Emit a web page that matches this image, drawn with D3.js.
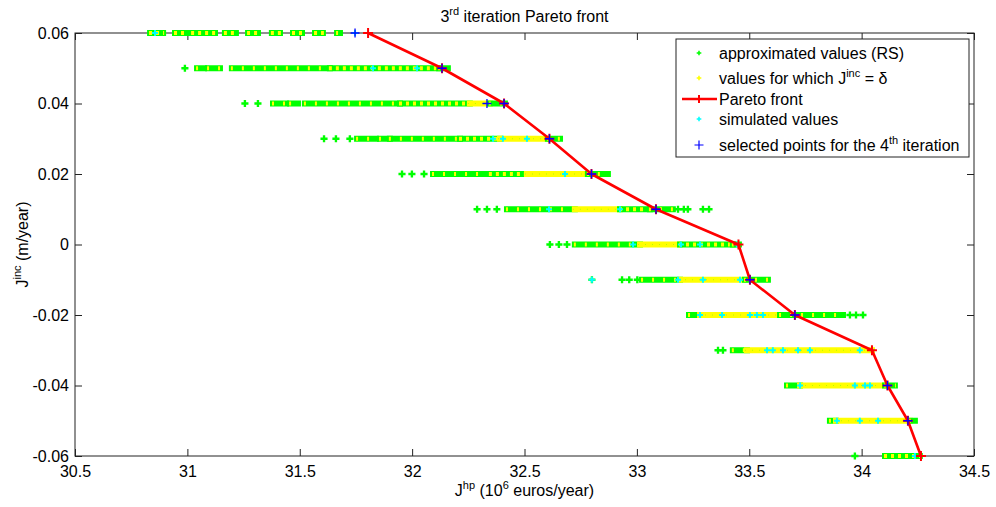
<!DOCTYPE html>
<html>
<head>
<meta charset="utf-8">
<script src="https://cdn.jsdelivr.net/npm/d3@7"></script>
<style>
  body { margin: 0; background: #fff; }
  svg { display: block; font-family: "Liberation Sans", Arial, sans-serif; }
</style>
</head>
<body>
<svg id="chart" width="996" height="507"></svg>
<script>
// ---- axis ticks ----
const xTicks = [30.5, 31, 31.5, 32, 32.5, 33, 33.5, 34, 34.5];
const yTicks = [-0.06, -0.04, -0.02, 0, 0.02, 0.04, 0.06];

// ---- Pareto front (Jhp in 10^6 euros/year, Jinc in m/year) ----
const paretoJhp  = [31.804, 32.133, 32.409, 32.611, 32.798, 33.085, 33.452, 33.503, 33.703, 34.046, 34.115, 34.206, 34.264];
const paretoJinc = [0.06, 0.05, 0.04, 0.03, 0.02, 0.01, 0, -0.01, -0.02, -0.03, -0.04, -0.05, -0.06];

// ---- dense stretches of response-surface values: [Jinc, Jhp from, Jhp to, mix] ----
// mix: 'g' mostly approximated values, 'm' even mix, 'y' mostly values with Jinc = delta
const approxRuns = [
  [0.06, 30.834, 30.892, 'm'], [0.06, 30.945, 30.998, 'm'], [0.06, 31.021, 31.123, 'm'],
  [0.06, 31.167, 31.216, 'm'], [0.06, 31.270, 31.314, 'm'], [0.06, 31.376, 31.412, 'm'],
  [0.06, 31.470, 31.510, 'm'], [0.06, 31.568, 31.603, 'm'], [0.06, 31.666, 31.679, 'g'],

  [0.05, 31.043, 31.074, 'g'], [0.05, 31.092, 31.145, 'g'], [0.05, 31.198, 31.634, 'g'],
  [0.05, 31.634, 32.120, 'm'], [0.05, 32.120, 32.159, 'g'],

  [0.04, 31.381, 31.439, 'g'], [0.04, 31.457, 31.492, 'g'], [0.04, 31.523, 31.946, 'g'],
  [0.04, 31.946, 32.257, 'm'], [0.04, 32.257, 32.346, 'y'], [0.04, 32.346, 32.413, 'g'],

  [0.03, 31.755, 31.839, 'g'], [0.03, 31.857, 31.901, 'g'], [0.03, 31.901, 32.213, 'g'],
  [0.03, 32.213, 32.391, 'm'], [0.03, 32.391, 32.604, 'y'], [0.03, 32.604, 32.658, 'g'],

  [0.02, 32.093, 32.346, 'g'], [0.02, 32.346, 32.511, 'm'], [0.02, 32.511, 32.782, 'y'],
  [0.02, 32.782, 32.871, 'g'],

  [0.01, 32.422, 32.724, 'g'], [0.01, 32.724, 32.925, 'y'], [0.01, 32.925, 33.058, 'm'],
  [0.01, 33.058, 33.160, 'g'],

  [0, 32.724, 33.014, 'g'], [0, 33.014, 33.192, 'y'], [0, 33.192, 33.427, 'm'],
  [0, 33.427, 33.454, 'g'],

  [-0.01, 33.023, 33.192, 'g'], [-0.01, 33.192, 33.481, 'y'], [-0.01, 33.481, 33.583, 'g'],

  [-0.02, 33.232, 33.281, 'g'], [-0.02, 33.281, 33.637, 'y'], [-0.02, 33.637, 33.917, 'g'],

  [-0.03, 33.427, 33.490, 'g'], [-0.03, 33.490, 34.046, 'y'],

  [-0.04, 33.668, 33.726, 'g'], [-0.04, 33.726, 34.104, 'y'], [-0.04, 34.104, 34.148, 'g'],

  [-0.05, 33.859, 33.886, 'g'], [-0.05, 33.886, 34.215, 'y'], [-0.05, 34.215, 34.237, 'g'],

  [-0.06, 34.104, 34.259, 'm']
];

// ---- isolated approximated values: [Jinc, Jhp] ----
const approxPoints = [
  [0.05, 30.989],
  [0.04, 31.256], [0.04, 31.314],
  [0.03, 31.608], [0.03, 31.661], [0.03, 31.723],
  [0.02, 31.955], [0.02, 31.999], [0.02, 32.053],
  [0.01, 32.289], [0.01, 32.333], [0.01, 32.377],
  [0.01, 33.183], [0.01, 33.209], [0.01, 33.227], [0.01, 33.294], [0.01, 33.321],
  [0, 32.613], [0, 32.653], [0, 32.689],
  [-0.01, 32.800], [-0.01, 32.934], [-0.01, 32.966], [-0.01, 33.002],
  [-0.02, 33.948], [-0.02, 33.975], [-0.02, 34.006],
  [-0.03, 33.361], [-0.03, 33.383],
  [-0.06, 33.970]
];

// ---- simulated values: [Jinc, Jhp] ----
const simulated = [
  [0.06, 30.856], [0.06, 31.746],
  [0.05, 31.826], [0.05, 32.022],
  [0.03, 32.360], [0.03, 32.404], [0.03, 32.511],
  [0.02, 32.680],
  [0.01, 32.609], [0.01, 32.925],
  [0, 32.983], [0, 33.196], [0, 33.281], [0, 33.445],
  [-0.01, 32.800], [-0.01, 33.183], [-0.01, 33.294], [-0.01, 33.459],
  [-0.02, 33.281], [-0.02, 33.379], [-0.02, 33.503], [-0.02, 33.534], [-0.02, 33.561],
  [-0.03, 33.579], [-0.03, 33.605], [-0.03, 33.650], [-0.03, 33.717], [-0.03, 33.770], [-0.03, 33.992], [-0.03, 34.046],
  [-0.04, 33.726], [-0.04, 33.970], [-0.04, 34.015], [-0.04, 34.037],
  [-0.05, 33.890], [-0.05, 33.992], [-0.05, 34.073],
  [-0.06, 34.237]
];

// ---- points selected for the 4th iteration: [Jinc, Jhp] ----
const selected = [
  [0.06, 31.746], [0.05, 32.133], [0.04, 32.333], [0.04, 32.409], [0.03, 32.611],
  [0.02, 32.798], [0.01, 33.085], [-0.01, 33.503], [-0.02, 33.703],
  [-0.04, 34.115], [-0.05, 34.206]
];

const GREEN = "#00ff00", YELLOW = "#ffff00", CYAN = "#00ffff", RED = "#ff0000", BLUE = "#0000ff";

const svg = d3.select("#chart");
const margin = { left: 75, right: 974, top: 33, bottom: 456 };

const x = d3.scaleLinear().domain([30.5, 34.5]).range([margin.left, margin.right]);
const y = d3.scaleLinear().domain([-0.06, 0.06]).range([margin.bottom, margin.top]);

const fmt = d => String(d);

// ---- axes with inward ticks on all four sides ----
const tickLen = 7;
const axisColor = "#222";

const gx = svg.append("g").attr("transform", `translate(0,${margin.bottom})`)
  .call(d3.axisBottom(x).tickValues(xTicks).tickFormat(fmt).tickSize(-tickLen).tickPadding(10));
const gxTop = svg.append("g").attr("transform", `translate(0,${margin.top})`)
  .call(d3.axisTop(x).tickValues(xTicks).tickFormat("").tickSize(-tickLen));
const gy = svg.append("g").attr("transform", `translate(${margin.left},0)`)
  .call(d3.axisLeft(y).tickValues(yTicks).tickFormat(fmt).tickSize(-tickLen).tickPadding(6));
const gyRight = svg.append("g").attr("transform", `translate(${margin.right},0)`)
  .call(d3.axisRight(y).tickValues(yTicks).tickFormat("").tickSize(-tickLen));

[gx, gxTop, gy, gyRight].forEach(g => {
  g.select(".domain").remove();
  g.selectAll(".tick line").attr("stroke", axisColor);
  g.selectAll(".tick text").attr("fill", "#000").style("font-size", "16px")
    .style("font-family", "'Liberation Sans', Arial, sans-serif");
});

svg.append("rect")
  .attr("x", margin.left).attr("y", margin.top)
  .attr("width", margin.right - margin.left).attr("height", margin.bottom - margin.top)
  .attr("fill", "none").attr("stroke", axisColor).attr("stroke-width", 1);

// ---- dense stretches ----
const band = 6, pad = 3;
const runs = svg.append("g");
approxRuns.forEach(([lev, a, b, mix]) => {
  const x0 = x(a) - pad, x1 = x(b) + pad, yc = y(lev);
  runs.append("rect")
    .attr("x", x0).attr("y", yc - band / 2)
    .attr("width", x1 - x0).attr("height", band)
    .attr("fill", mix === 'y' ? YELLOW : GREEN);
  if (mix === 'g' || mix === 'm') {
    runs.append("line")
      .attr("x1", x0 + 2).attr("x2", x1 - 2).attr("y1", yc).attr("y2", yc)
      .attr("stroke", YELLOW).attr("stroke-width", 4)
      .attr("stroke-dasharray", mix === 'g' ? "2,9" : "3,4");
  } else {
    runs.append("line")
      .attr("x1", x0 + 1).attr("x2", x1 - 1).attr("y1", yc).attr("y2", yc)
      .attr("stroke", GREEN).attr("stroke-width", 1).attr("stroke-opacity", 0.3)
      .attr("stroke-dasharray", "1,6");
  }
});

// ---- isolated approximated values ----
const crossSym = d3.symbol().type(d3.symbolCross);
svg.append("g").selectAll("path").data(approxPoints).join("path")
  .attr("d", crossSym.size(28)())
  .attr("transform", d => `translate(${x(d[1])},${y(d[0])})`)
  .attr("fill", GREEN);

// ---- simulated values ----
svg.append("g").selectAll("path").data(simulated).join("path")
  .attr("d", crossSym.size(20)())
  .attr("transform", d => `translate(${x(d[1])},${y(d[0])})`)
  .attr("fill", CYAN);

// ---- Pareto front ----
const pareto = paretoJhp.map((v, i) => [v, paretoJinc[i]]);
svg.append("path")
  .datum(pareto)
  .attr("d", d3.line().x(d => x(d[0])).y(d => y(d[1])))
  .attr("fill", "none").attr("stroke", RED).attr("stroke-width", 2.6)
  .attr("stroke-linejoin", "round");

const plus = r => `M${-r},0H${r}M0,${-r}V${r}`;
svg.append("g").selectAll("path").data(pareto).join("path")
  .attr("d", plus(5))
  .attr("transform", d => `translate(${x(d[0])},${y(d[1])})`)
  .attr("stroke", RED).attr("stroke-width", 2).attr("fill", "none");

// ---- selected points ----
svg.append("g").selectAll("path").data(selected).join("path")
  .attr("d", plus(4.5))
  .attr("transform", d => `translate(${x(d[1])},${y(d[0])})`)
  .attr("stroke", BLUE).attr("stroke-width", 1.3).attr("fill", "none");

// ---- title and axis labels ----
const title = svg.append("text")
  .attr("x", (margin.left + margin.right) / 2).attr("y", 22)
  .attr("text-anchor", "middle").style("font-size", "16px");
title.append("tspan").text("3");
title.append("tspan").attr("dy", -7).style("font-size", "11px").text("rd");
title.append("tspan").attr("dy", 7).text(" iteration Pareto front");

const xlab = svg.append("text")
  .attr("x", (margin.left + margin.right) / 2).attr("y", 496)
  .attr("text-anchor", "middle").style("font-size", "16px");
xlab.append("tspan").text("J");
xlab.append("tspan").attr("dy", -7).style("font-size", "11px").text("hp");
xlab.append("tspan").attr("dy", 7).text(" (10");
xlab.append("tspan").attr("dy", -7).style("font-size", "11px").text("6");
xlab.append("tspan").attr("dy", 7).text(" euros/year)");

const ylab = svg.append("text")
  .attr("transform", `translate(28,${(margin.top + margin.bottom) / 2}) rotate(-90)`)
  .attr("text-anchor", "middle").style("font-size", "16px");
ylab.append("tspan").text("J");
ylab.append("tspan").attr("dy", -7).style("font-size", "11px").text("inc");
ylab.append("tspan").attr("dy", 7).text(" (m/year)");

// ---- legend ----
const lg = svg.append("g");
lg.append("rect").attr("x", 676).attr("y", 39).attr("width", 293).attr("height", 118)
  .attr("fill", "#fff").attr("stroke", axisColor).attr("stroke-width", 1);

const legendRows = [53, 78, 99, 119, 145];
const mx = 699, tx = 719;
lg.append("path").attr("d", crossSym.size(12)()).attr("transform", `translate(${mx},${legendRows[0]})`).attr("fill", GREEN);
lg.append("path").attr("d", crossSym.size(12)()).attr("transform", `translate(${mx},${legendRows[1]})`).attr("fill", YELLOW);
lg.append("line").attr("x1", 682).attr("x2", 717).attr("y1", legendRows[2]).attr("y2", legendRows[2])
  .attr("stroke", RED).attr("stroke-width", 2.6);
lg.append("path").attr("d", plus(4)).attr("transform", `translate(${mx},${legendRows[2]})`)
  .attr("stroke", RED).attr("stroke-width", 2);
lg.append("path").attr("d", crossSym.size(12)()).attr("transform", `translate(${mx},${legendRows[3]})`).attr("fill", CYAN);
lg.append("path").attr("d", plus(4.5)).attr("transform", `translate(${mx},${legendRows[4]})`)
  .attr("stroke", BLUE).attr("stroke-width", 1.2);

const ltext = (i) => lg.append("text").attr("x", tx).attr("y", legendRows[i] + 6).style("font-size", "16px");
ltext(0).text("approximated values (RS)");
{
  const t = ltext(1);
  t.append("tspan").text("values for which J");
  t.append("tspan").attr("dy", -7).style("font-size", "11px").text("inc");
  t.append("tspan").attr("dy", 7).text(" = δ");
}
ltext(2).text("Pareto front");
ltext(3).text("simulated values");
{
  const t = ltext(4);
  t.append("tspan").text("selected points for the 4");
  t.append("tspan").attr("dy", -7).style("font-size", "11px").text("th");
  t.append("tspan").attr("dy", 7).text(" iteration");
}
</script>
</body>
</html>
